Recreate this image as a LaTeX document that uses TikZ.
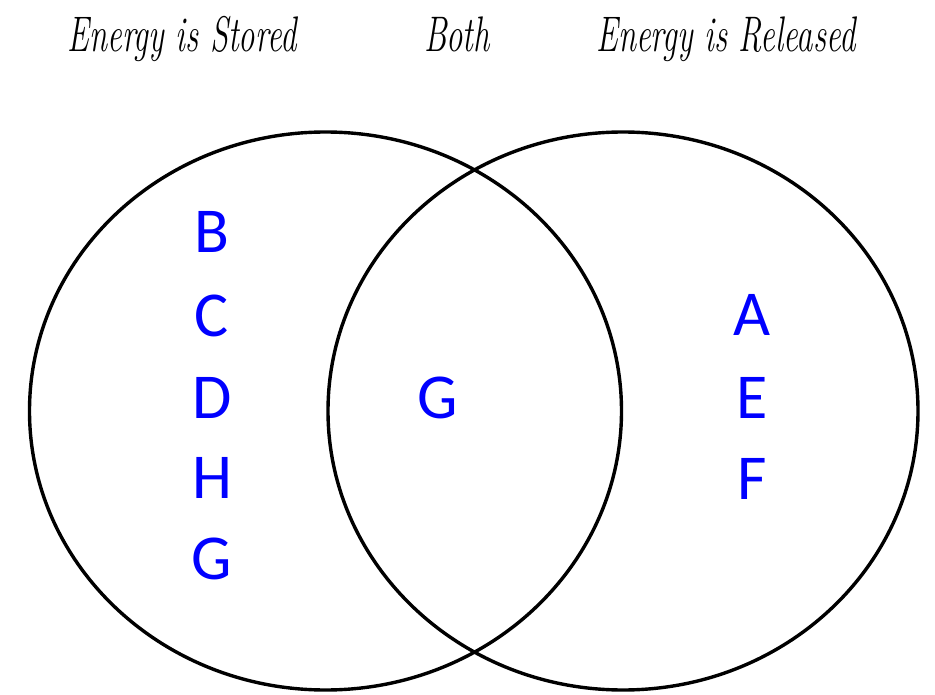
\documentclass[tikz,border=0pt]{standalone}
\usepackage{fontspec}
\newfontfamily\letterfont{Carlito}
\usetikzlibrary{shapes.geometric}
\tikzset{
  setring/.style={ellipse, draw=black, line width=3.4pt, inner sep=0pt, minimum width=592pt, minimum height=558pt},
  heading/.style={anchor=base, inner sep=0pt, font=\fontsize{50}{56}\selectfont\itshape},
  item/.style={anchor=base, inner sep=0pt, text=blue, font=\letterfont\fontsize{64}{70}\selectfont}
}
\begin{document}
\begin{tikzpicture}[x=1pt,y=-1pt]
\useasboundingbox (0,0) rectangle (935,695);
\fill[white] (0,0) rectangle (935,695);
\node[setring] (stored) at (325.5,411) {};
\node[setring, minimum width=590pt] (released) at (623,411) {};
\node[heading] (h1) at (182,52) {\scalebox{0.655}[1]{Energy is Stored}};
\node[heading] (h2) at (457,52) {\scalebox{0.655}[1]{Both}};
\node[heading] (h3) at (726,52) {\scalebox{0.655}[1]{Energy is Released}};
\node[item] (b) at (212,253) {B};
\node[item] (c) at (212,337) {C};
\node[item] (d) at (212,418) {D};
\node[item] (h) at (212,498) {H};
\node[item] (g1) at (212,579) {G};
\node[item] (g2) at (438,418) {G};
\node[item] (a) at (752,335) {A};
\node[item] (e) at (752,418) {E};
\node[item] (f) at (752,499) {F};
\end{tikzpicture}
\end{document}
